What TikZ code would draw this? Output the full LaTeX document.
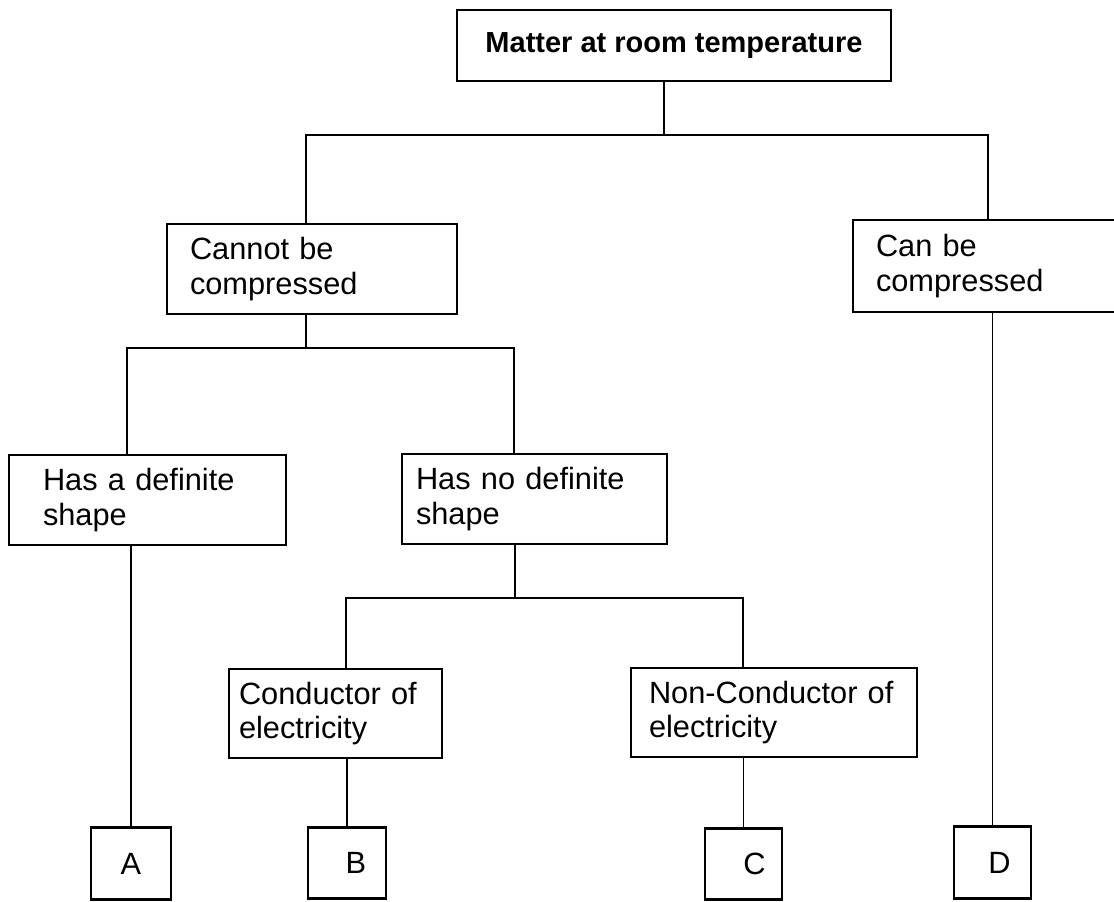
\documentclass[tikz,border=0pt]{standalone}
\usepackage{fontspec}
\setmainfont{Liberation Sans}
\usepackage{tikz}

\begin{document}
\begin{tikzpicture}[
    box/.style={draw, line width=1.5pt, minimum height=1.8cm, align=left, font=\fontsize{17.5}{19.5}\selectfont},
    leaf/.style={draw, line width=1.5pt, minimum width=1.56cm, minimum height=1.43cm, font=\fontsize{17.5}{19.5}\selectfont},
    link/.style={line width=1pt}
]
    \useasboundingbox (0,0) rectangle (22.28,18.04);
    \clip (0,0) rectangle (22.28,18.04);

    \node[box, align=center, minimum width=8.68cm, minimum height=1.42cm, font=\fontsize{16.5}{19.5}\selectfont\bfseries] (matter) at (13.48,17.13) {Matter at room temperature};

    \node[box, text width=4.88cm, inner xsep=0.46cm] (cannot) at (6.24,12.66) {Cannot be\\compressed};
    \node[box, text width=5.08cm, inner xsep=0.46cm, minimum height=1.84cm] (can) at (20.06,12.72) {Can be\\compressed};

    \node[box, text width=4.18cm, inner xsep=0.68cm] (hasdef) at (2.95,8.04) {Has a definite\\shape};
    \node[box, text width=4.74cm, inner xsep=0.28cm] (hasno) at (10.69,8.06) {Has no definite\\shape};

    \node[box, text width=3.86cm, inner xsep=0.2cm, minimum height=1.78cm] (cond) at (6.71,3.77) {Conductor of\\electricity};
    \node[box, text width=5.0cm, inner xsep=0.36cm, minimum height=1.78cm] (noncond) at (15.48,3.79) {Non-Conductor of\\electricity};

    \node[leaf, minimum width=1.60cm] (a) at (2.62,0.77) {A};
    \node[leaf] (b) at (6.94,0.78) {\hspace{0.36cm}B};
    \node[leaf, minimum width=1.54cm] (c) at (14.87,0.76) {\hspace{0.44cm}C};
    \node[leaf, minimum width=1.54cm] (d) at (19.85,0.79) {\hspace{0.28cm}D};

    \coordinate (j1) at (13.28,15.34);
    \coordinate (j1l) at (6.12,15.34);
    \coordinate (j1r) at (19.76,15.34);
    \coordinate (j2) at (6.12,11.08);
    \coordinate (j2l) at (2.54,11.08);
    \coordinate (j2r) at (10.28,11.08);
    \coordinate (j3) at (10.30,6.08);
    \coordinate (j3l) at (6.92,6.08);
    \coordinate (j3r) at (14.86,6.08);

    \draw[link] (matter.south -| j1) -- (j1);
    \draw[link] (cannot.north -| j1l) -- (j1l) -- (j1r) -- (can.north -| j1r);
    \draw[link] (cannot.south -| j2) -- (j2);
    \draw[link] (hasdef.north -| j2l) -- (j2l) -- (j2r) -- (hasno.north -| j2r);
    \draw[link] (hasno.south -| j3) -- (j3);
    \draw[link] (cond.north -| j3l) -- (j3l) -- (j3r) -- (noncond.north -| j3r);
    \draw[link] (hasdef.south -| a.north) -- (a.north);
    \draw[link] (cond.south -| b.north) -- (b.north);
    \draw[link] (noncond.south -| c.north) -- (c.north);
    \draw[link] (can.south -| d.north) -- (d.north);
\end{tikzpicture}
\end{document}
